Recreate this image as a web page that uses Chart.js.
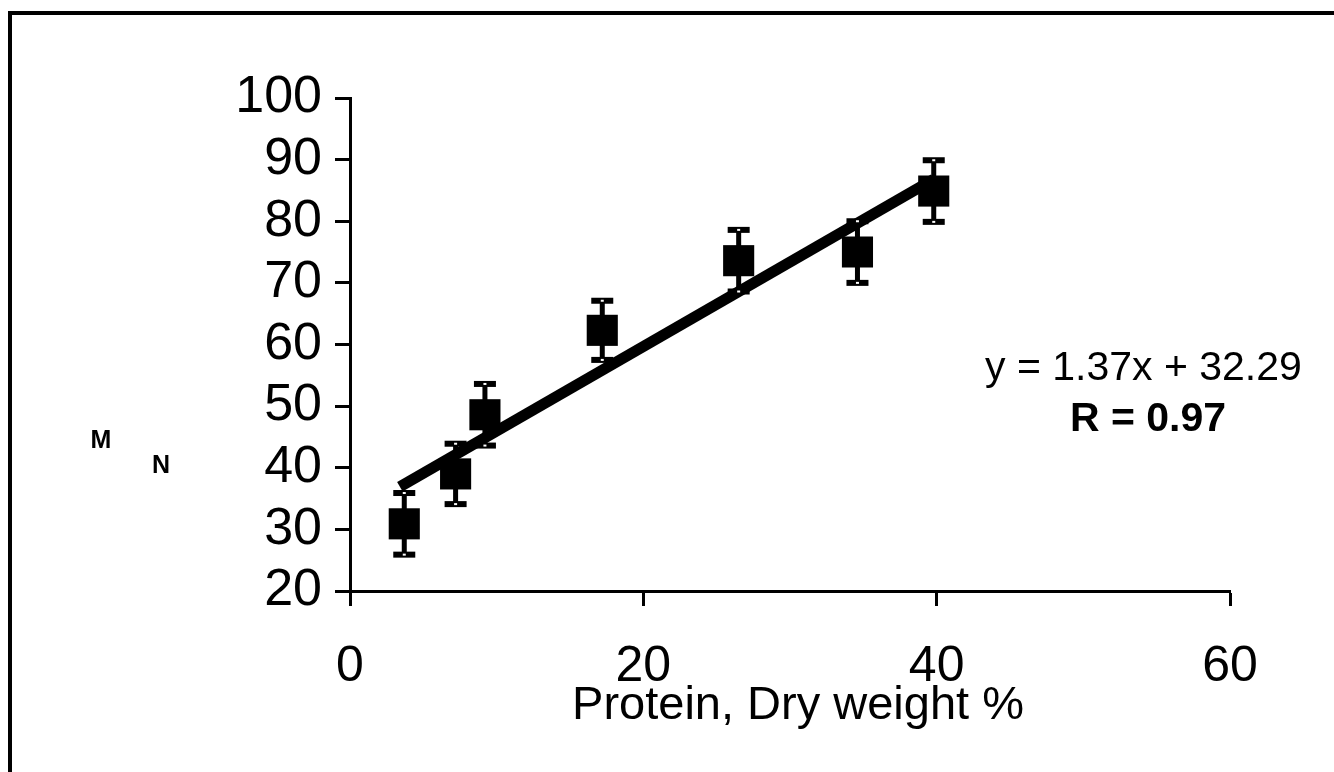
<!DOCTYPE html>
<html>
<head>
<meta charset="utf-8">
<script src="https://cdn.jsdelivr.net/npm/chart.js@4/dist/chart.umd.min.js"></script>
<style>
  html, body { margin: 0; padding: 0; background: #fff; }
  #wrap { width: 1334px; height: 772px; position: relative; }
</style>
</head>
<body>
<div id="wrap"><canvas id="chart" width="1334" height="772"></canvas></div>
<script>
// Data
const proteinX = [3.7, 7.2, 9.2, 17.2, 26.5, 34.6, 39.8];
const digestY = [30.9, 39.0, 48.6, 62.3, 73.6, 75.0, 84.9];
const errorY = [5.0, 4.9, 5.0, 4.8, 5.0, 5.0, 5.0];
const trendX = [3.4, 39.8];
const trendY = [36.9, 86.8];
const xTicks = [0, 20, 40, 60];
const yTicks = [20, 30, 40, 50, 60, 70, 80, 90, 100];
const equationText = 'y = 1.37x + 32.29';
const rText = 'R = 0.97';
const xTitle = 'Protein, Dry weight %';

const FONT = "'Liberation Sans', Arial, sans-serif";

// Frame, error bars and the equation labels
const extras = {
    id: 'extras',
    beforeDraw(chart) {
        const ctx = chart.ctx;
        ctx.save();
        ctx.fillStyle = '#fff';
        ctx.fillRect(0, 0, chart.width, chart.height);
        ctx.strokeStyle = '#000';
        ctx.lineWidth = 4;
        ctx.strokeRect(10, 13, chart.width + 20, chart.height + 20);
        ctx.restore();
    },
    afterDatasetsDraw(chart) {
        const ctx = chart.ctx;
        const xs = chart.scales.x;
        const ys = chart.scales.y;
        ctx.save();
        ctx.fillStyle = '#000';
        proteinX.forEach((px, i) => {
            const cx = xs.getPixelForValue(px);
            const top = ys.getPixelForValue(digestY[i] + errorY[i]);
            const bot = ys.getPixelForValue(digestY[i] - errorY[i]);
            ctx.fillRect(cx - 2.5, top, 5, bot - top);
            ctx.fillRect(cx - 11, top - 3, 22, 6);
            ctx.fillRect(cx - 11, bot - 3, 22, 6);
            ctx.fillStyle = '#fff';
            ctx.fillRect(cx - 1.5, top - 1, 3, 2);
            ctx.fillRect(cx - 1.5, bot - 1, 3, 2);
            ctx.fillStyle = '#000';
        });

        ctx.font = '41px ' + FONT;
        ctx.textAlign = 'left';
        ctx.textBaseline = 'alphabetic';
        ctx.fillText(equationText, 985, 380);
        ctx.font = 'bold 41px ' + FONT;
        ctx.textAlign = 'center';
        ctx.fillText(rText, 1148, 431);

        // garbled y axis title glyphs
        ctx.font = 'bold 25px ' + FONT;
        ctx.textBaseline = 'middle';
        ctx.fillText('M', 101, 441);
        ctx.fillText('N', 161, 466);

        ctx.font = '47px ' + FONT;
        ctx.fillText(xTitle, 798, 706);
        ctx.restore();
    }
};

new Chart(document.getElementById('chart'), {
    type: 'scatter',
    data: {
        datasets: [
            {
                type: 'line',
                data: trendX.map((x, i) => ({ x, y: trendY[i] })),
                borderColor: '#000',
                borderWidth: 11,
                borderCapStyle: 'butt',
                pointRadius: 0,
                fill: false
            },
            {
                data: proteinX.map((x, i) => ({ x, y: digestY[i] })),
                backgroundColor: '#000',
                borderColor: '#000',
                borderWidth: 0,
                pointStyle: 'rect',
                pointRadius: 22,
                pointHoverRadius: 22
            }
        ]
    },
    options: {
        responsive: false,
        animation: false,
        events: [],
        layout: { padding: { left: 0, top: 98, right: 104, bottom: 0 } },
        plugins: {
            legend: { display: false },
            tooltip: { enabled: false }
        },
        scales: {
            x: {
                type: 'linear',
                min: 0,
                max: 60,
                afterBuildTicks: s => { s.ticks = xTicks.map(v => ({ value: v })); },
                afterFit: s => { s.height = 181; },
                grid: { display: true, drawOnChartArea: false, drawTicks: true, tickLength: 15, tickWidth: 3, tickColor: '#000' },
                border: { display: true, width: 3, color: '#000' },
                ticks: { color: '#000', padding: 31, autoSkip: false, maxRotation: 0, font: { family: FONT, size: 50 } }
            },
            y: {
                type: 'linear',
                min: 20,
                max: 100,
                afterBuildTicks: s => { s.ticks = yTicks.map(v => ({ value: v })); },
                afterFit: s => { s.width = 350; },
                grid: { display: true, drawOnChartArea: false, drawTicks: true, tickLength: 15, tickWidth: 3, tickColor: '#000' },
                border: { display: true, width: 3, color: '#000' },
                ticks: { color: '#000', padding: 13, autoSkip: false, font: { family: FONT, size: 52, lineHeight: 1 } }
            }
        }
    },
    plugins: [extras]
});
</script>
</body>
</html>
